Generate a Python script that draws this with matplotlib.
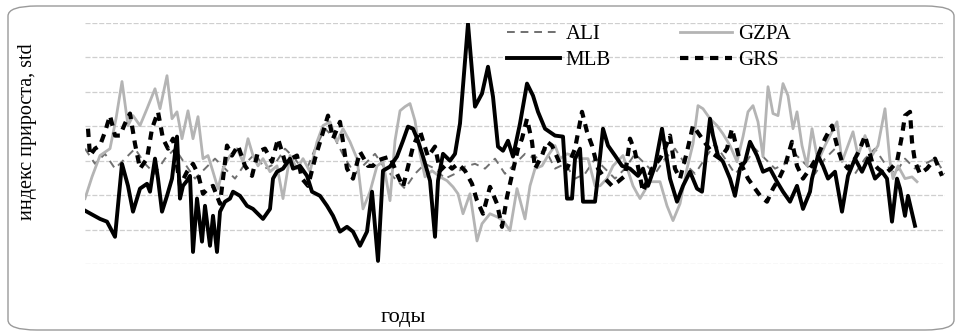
import numpy as np
import matplotlib
matplotlib.use("Agg")
import matplotlib.pyplot as plt
from matplotlib.patches import FancyBboxPatch

# observation index (years, no tick labels on the original)
t_mlb = [0, 15, 22, 30, 37, 43, 48, 55, 62, 65, 70, 73, 77, 82, 87, 92, 95, 98, 102, 105,
         108, 112, 117, 120, 125, 128, 132, 135, 140, 145, 148, 155, 162, 168, 178, 185, 188, 192, 198, 205,
         208, 215, 222, 227, 235, 242, 248, 255, 262, 268, 275, 282, 287, 293, 298, 305, 312, 318, 323, 328,
         333, 338, 345, 350, 353, 358, 365, 370, 375, 383, 390, 397, 403, 408, 413, 418, 423, 428, 435, 442,
         448, 453, 460, 470, 478, 482, 487, 490, 495, 498, 505, 510, 513, 518, 523, 530, 537, 545, 553, 558,
         563, 570, 577, 585, 592, 598, 605, 612, 617, 625, 628, 633, 638, 645, 650, 655, 660, 665, 672, 678,
         685, 692, 698, 705, 712, 718, 725, 727, 733, 738, 743, 750, 757, 763, 770, 777, 783, 790, 797, 802,
         807, 812, 815, 820, 823, 830]
mlb = [-1.45, -1.69, -1.77, -2.21, -0.09, -0.73, -1.48, -0.81, -0.67, -0.90, 0.06, -0.52, -1.48, -1.02, -0.52, 0.70, -1.10, -0.73, -0.58, -0.44,
       -2.65, -1.10, -2.35, -1.31, -2.47, -1.60, -2.65, -1.48, -1.19, -1.10, -0.90, -1.02, -1.31, -1.40, -1.69, -1.40, -0.52, -0.32, -0.23, 0.06,
       -0.23, -0.15, -0.44, -0.90, -1.02, -1.31, -1.60, -2.06, -1.92, -2.06, -2.47, -2.06, -0.90, -2.91, -0.29, -0.17, 0.12, 0.58, 0.99, 0.93,
       0.58, 0.12, -0.58, -2.21, -0.58, 0.20, 0.00, 0.20, 1.08, 3.98, 1.57, 1.95, 2.73, 1.86, 0.41, 0.29, 0.58, 0.12, 1.08, 2.24,
       1.89, 1.42, 0.93, 0.73, 0.70, -1.10, -1.10, 0.06, 0.35, -1.19, -1.19, -1.19, -0.44, 0.93, 0.44, 0.15, -0.15, -0.23, -0.44, -0.23,
       -0.73, -0.15, 0.93, -0.52, -1.19, -0.73, -0.32, -0.81, -0.90, 1.22, 0.73, 0.15, -0.03, -0.52, -1.02, -0.23, -0.03, 0.55, 0.15, -0.32,
       -0.23, -0.61, -0.90, -1.19, -0.73, -1.40, -0.90, -0.52, 0.15, -0.15, -0.52, -0.32, -1.48, -0.44, 0.06, -0.32, 0.06, -0.52, -0.32, -0.52,
       -1.77, -0.52, -0.81, -1.60, -1.02, -1.89]

t_gzpa = [0, 7, 15, 25, 31, 37, 43, 48, 55, 62, 70, 75, 82, 87, 92, 97, 103, 108, 113, 118,
          123, 128, 133, 138, 145, 152, 158, 163, 168, 173, 178, 185, 192, 198, 205, 212, 218, 225, 232, 238,
          245, 252, 258, 265, 272, 278, 285, 292, 298, 305, 310, 315, 320, 325, 330, 335, 340, 347, 355, 362,
          368, 373, 378, 385, 392, 397, 405, 412, 418, 425, 432, 440, 445, 450, 457, 463, 470, 475, 482, 488,
          497, 503, 510, 515, 522, 528, 538, 548, 555, 565, 575, 582, 588, 595, 602, 608, 613, 618, 625, 632,
          638, 645, 652, 658, 663, 668, 673, 678, 683, 688, 693, 698, 703, 708, 712, 717, 722, 727, 733, 740,
          747, 752, 757, 763, 768, 773, 780, 787, 793, 800, 805, 808, 813, 820, 827, 832]
gzpa = [-1.10, -0.47, 0.15, 0.35, 1.22, 2.30, 1.02, 1.31, 1.02, 1.51, 2.09, 1.51, 2.47, 1.22, 1.42, 0.64, 1.45, 0.64, 1.28, 0.06,
        0.15, -0.32, -0.81, -0.23, 0.15, 0.35, -0.03, 0.64, 0.15, -0.15, 0.06, -0.32, -0.15, -1.10, 0.15, -0.23, 0.06, -0.32, 0.55, 1.02,
        1.13, 0.55, 0.93, 0.55, 0.06, -1.40, -0.90, -0.15, -0.03, -1.16, 0.58, 1.45, 1.57, 1.66, 1.16, 0.20, -0.47, -0.29, -0.47, -0.58,
        -0.76, -0.96, -1.54, -0.96, -2.33, -1.83, -1.54, -1.63, -1.74, -2.03, -0.81, -1.69, -0.73, -0.23, -0.15, 0.15, 0.44, 0.06, 0.20, 0.15,
        0.06, 0.06, -0.73, -0.73, -0.52, -0.15, 0.15, -0.73, -1.10, -0.61, -0.61, -1.31, -1.74, -1.25, -0.23, 0.49, 1.60, 1.51, 1.22, 1.02,
        0.78, 0.44, -0.03, 0.70, 1.42, 1.60, 1.13, 0.12, 2.15, 1.37, 1.31, 2.24, 1.89, 0.93, 1.42, 0.44, -0.15, 0.93, -0.03, 0.44,
        0.84, 1.13, -0.03, 0.44, 0.84, 0.15, 0.73, 0.15, 0.44, 1.51, -0.03, -0.52, -0.15, -0.52, -0.47, -0.61]

t_grs = [3, 5, 10, 15, 20, 25, 30, 35, 40, 45, 50, 55, 62, 67, 73, 78, 83, 88, 95, 102,
         108, 113, 118, 123, 128, 135, 142, 147, 153, 160, 167, 173, 180, 187, 193, 200, 206, 212, 217, 223,
         230, 237, 243, 248, 255, 262, 268, 275, 283, 288, 292, 298, 305, 312, 318, 323, 328, 335, 338, 343,
         350, 355, 362, 367, 373, 380, 387, 392, 398, 405, 412, 417, 422, 428, 433, 437, 442, 447, 450, 457,
         462, 467, 475, 482, 490, 497, 502, 507, 513, 520, 527, 533, 540, 545, 550, 558, 567, 575, 580, 585,
         590, 595, 602, 608, 615, 622, 628, 635, 642, 647, 655, 663, 670, 676, 682, 688, 694, 700, 707, 712,
         718, 725, 733, 740, 747, 752, 757, 763, 770, 775, 780, 787, 793, 800, 806, 812, 817, 820, 825, 827,
         830, 835, 842, 850, 857]
grs = [0.93, 0.15, 0.35, 0.44, 0.84, 1.31, 0.73, 0.73, 1.08, 1.37, 0.49, -0.23, 0.06, 0.93, 1.42, 0.64, 0.35, 0.64, -0.73, -0.32,
       -0.09, -0.38, -0.96, -0.81, -0.73, -1.25, 0.44, 0.15, 0.44, -0.15, -0.44, 0.26, 0.35, -0.03, 0.64, -0.03, 0.06, 0.15, -0.52, -0.73,
       0.06, 0.73, 1.31, 0.64, 1.13, -0.23, -0.52, 0.26, -0.15, -0.15, 0.00, 0.06, 0.12, -0.38, -0.76, -0.17, 0.41, 0.87, 0.58, 0.12,
       0.41, -0.29, -0.09, -0.23, -0.09, -0.29, -0.67, -1.16, -1.54, -0.76, -1.25, -1.92, -1.05, -0.29, 0.35, 0.64, 1.22, 0.55, -0.23, 0.15,
       0.55, 0.44, -0.09, -0.23, 0.35, 1.42, 0.84, 0.44, -0.23, -0.52, -0.73, -0.61, -0.44, 0.64, 0.26, -0.90, -0.23, 0.06, 0.35, 0.73,
       -0.23, -0.52, 0.26, 1.02, 0.73, 0.44, 0.20, 0.06, 0.35, 0.93, -0.03, -0.52, -0.81, -1.05, -1.19, -0.81, -0.52, -0.15, 0.55, -0.15,
       -0.52, -0.23, 0.15, 0.64, 1.02, 0.44, -0.03, -0.23, 0.06, 0.35, 0.73, -0.03, -0.23, -0.38, -0.23, -0.03, 0.73, 1.31, 1.42, 0.55,
       -0.03, -0.38, -0.23, 0.06, -0.44]

t_ali = list(range(0, 870, 10))
ali = [0.35, -0.09, 0.20, -0.23, 0.06, 0.35, -0.09, -0.38, 0.06, 0.35, -0.09, -0.52, -0.23, 0.06, -0.23, -0.52, -0.09, 0.20, -0.23, -0.09,
       0.35, 0.06, -0.38, 0.35, 0.93, 0.64, 0.06, -0.38, -0.09, 0.20, -0.23, -0.52, -0.81, -0.38, -0.09, -0.23, -0.52, -0.38, -0.17, -0.09,
       -0.23, 0.06, -0.38, -0.09, 0.20, 0.06, 0.35, -0.23, -0.09, -0.52, -0.38, 0.06, -0.23, -0.52, -0.23, 0.20, -0.09, -0.38, 0.06, 0.35,
       -0.09, -0.38, 0.06, 0.49, 0.06, -0.38, -0.09, 0.35, 0.06, -0.23, -0.09, 0.20, -0.09, -0.38, 0.06, 0.35, -0.09, -0.38, 0.06, 0.35,
       -0.09, -0.38, 0.06, -0.23, -0.09, 0.06, -0.38]

plt.rcParams['font.family'] = ['Liberation Serif', 'DejaVu Serif']

fig = plt.figure(figsize=(9.61, 3.36), dpi=100)
fig.patches.append(FancyBboxPatch((8 / 961, 6 / 336), 946 / 961, 324 / 336,
                                  boxstyle="round,pad=0,rounding_size=0.03",
                                  transform=fig.transFigure, fill=False,
                                  edgecolor='#9a9a9a', linewidth=1.0))

ax = fig.add_axes([85 / 961, 72 / 336, 860 / 961, 241 / 336])
ax.set_xlim(0, 860)
ax.set_ylim(-3, 4)
ax.set_yticks(range(-3, 5))
ax.set_xticks([])
ax.tick_params(left=False, labelleft=False)
for s in ax.spines.values():
    s.set_visible(False)
ax.grid(axis='y', color='#cfcfcf', linewidth=0.9, linestyle=(0, (4, 1.5)))
ax.set_axisbelow(True)

l_ali, = ax.plot(t_ali, ali, color='#707070', linewidth=1.4, linestyle=(0, (4, 3)), label='ALI')
l_gzpa, = ax.plot(t_gzpa, gzpa, color='#b4b4b4', linewidth=2.0, label='GZPA')
l_grs, = ax.plot(t_grs, grs, color='black', linewidth=3.0, linestyle=(0, (2, 1.6)), label='GRS')
l_mlb, = ax.plot(t_mlb, mlb, color='black', linewidth=2.8, label='MLB')

fig.legend(handles=[l_ali, l_mlb, l_gzpa, l_grs], ncol=2, frameon=False,
           loc='upper left', bbox_to_anchor=(497 / 961, 1 - 14 / 336),
           fontsize=15, handlelength=2.5, handletextpad=0.3,
           columnspacing=3.3, labelspacing=0.3, borderpad=0)

fig.text(28 / 961, 0.607, "индекс прироста, std", rotation=90,
         ha='center', va='center', fontsize=14.5)
fig.text(403 / 961, 0.054, "годы", ha='center', va='center', fontsize=16)

fig.savefig("out.png", dpi=100)
